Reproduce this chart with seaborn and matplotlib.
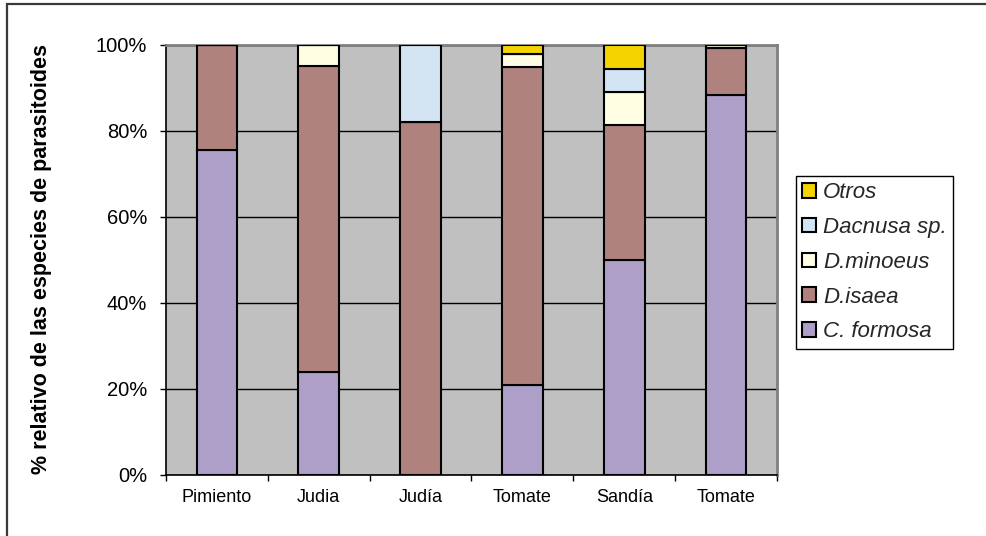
import matplotlib
matplotlib.use("Agg")
import matplotlib.pyplot as plt
from matplotlib.patches import Patch, Rectangle
from matplotlib.ticker import FixedLocator, PercentFormatter
import seaborn as sns

# Crops (x-axis categories) and relative share (%) of each parasitoid species
cultivos = ["Pimiento", "Judia", "Judía", "Tomate", "Sandía", "Tomate"]
c_formosa = [75.6, 24.0, 0.0, 20.9, 50.0, 88.4]
d_isaea = [24.4, 71.0, 82.2, 74.0, 31.5, 10.8]
d_minoeus = [0.0, 5.0, 0.0, 3.1, 7.5, 0.8]
dacnusa = [0.0, 0.0, 17.8, 0.0, 5.5, 0.0]
otros = [0.0, 0.0, 0.0, 2.0, 5.5, 0.0]

especies = ["C. formosa", "D.isaea", "D.minoeus", "Dacnusa sp.", "Otros"]
colores = ["#AE9FC9", "#B0827E", "#FFFDE2", "#D3E4F3", "#F4D300"]
series = [c_formosa, d_isaea, d_minoeus, dacnusa, otros]

sns.set_theme(style="white")
plt.rcParams["font.family"] = ["Liberation Sans", "DejaVu Sans"]

fig = plt.figure(figsize=(9.87, 5.36), dpi=100)
ax = fig.add_axes([166 / 987, 1 - 475 / 536, (777 - 166) / 987, (475 - 45) / 536])
ax.set_facecolor("#C0C0C0")

pos = list(range(len(cultivos)))
base = [0.0] * len(cultivos)
for nombre, vals, col in zip(especies, series, colores):
    sns.barplot(x=pos, y=vals, bottom=base, color=col, saturation=1,
                width=0.4, edgecolor="black", linewidth=1.5, errorbar=None,
                ax=ax, zorder=3)
    base = [b + v for b, v in zip(base, vals)]

ax.set_xlim(-0.5, len(cultivos) - 0.5)
ax.set_ylim(0, 100)

# y axis: 0%..100% with black horizontal gridlines
ax.yaxis.set_major_locator(FixedLocator([0, 20, 40, 60, 80, 100]))
ax.yaxis.set_major_formatter(PercentFormatter(decimals=0))
ax.grid(axis="y", color="black", linewidth=1.0, zorder=1)
ax.grid(axis="x", visible=False)
ax.set_axisbelow(True)

# x axis: labels centred on categories, tick marks between categories
ax.set_xticks(pos)
ax.set_xticklabels(cultivos)
ax.xaxis.set_minor_locator(FixedLocator([p - 0.5 for p in pos] + [pos[-1] + 0.5]))
ax.tick_params(axis="x", which="major", length=0, pad=10, labelsize=13,
               labelcolor="black")
ax.tick_params(axis="x", which="minor", length=4.5, width=1, color="black",
               direction="out", bottom=True)
ax.tick_params(axis="y", which="major", length=4.5, width=1, color="black",
               direction="out", left=True, pad=9, labelsize=14.5,
               labelcolor="black")
ax.set_xlabel("")
ax.set_ylabel("")

for side in ("left", "bottom"):
    ax.spines[side].set_color("black")
    ax.spines[side].set_linewidth(1.2)
for side in ("top", "right"):
    ax.spines[side].set_color("#808080")
    ax.spines[side].set_linewidth(2.0)

fig.text(42 / 987, 1 - 259 / 536, "% relativo de las especies de parasitoides",
         rotation=90, ha="center", va="center", fontsize=15.5,
         fontweight="bold", color="black")

handles = [Patch(facecolor=c, edgecolor="black", linewidth=1.5)
           for c in colores][::-1]
leg = ax.legend(handles, especies[::-1], loc="upper left",
                bbox_to_anchor=(796 / 987, 1 - 176 / 536),
                bbox_transform=fig.transFigure, borderaxespad=0,
                prop={"style": "italic", "size": 16}, frameon=True,
                fancybox=False, edgecolor="black", framealpha=1,
                handlelength=0.63, handleheight=0.63, handletextpad=0.3,
                labelspacing=0.62, borderpad=0.28)
leg.get_frame().set_linewidth(1.0)

# outer chart border
fig.add_artist(Rectangle((6.5 / 987, -0.1), 1.2, 1.1 - 4.5 / 536,
                         transform=fig.transFigure, fill=False,
                         edgecolor="#3a3a3a", linewidth=1.6, clip_on=False))

fig.savefig("out.png", dpi=100)
